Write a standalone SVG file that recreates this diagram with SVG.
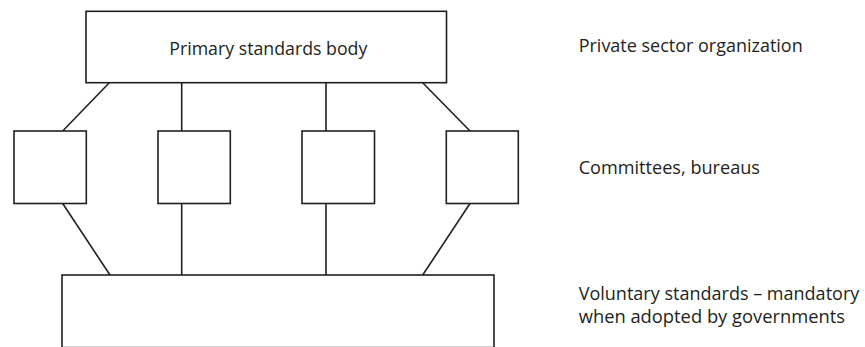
<svg xmlns="http://www.w3.org/2000/svg" width="865" height="347" viewBox="0 0 865 347">
<style>
.box{fill:#fff;stroke:#231f20;stroke-width:1.6}
.con{stroke:#231f20;stroke-width:1.6;fill:none}
.t{font-family:"Open Sans","Noto Sans",sans-serif;font-size:18px;fill:#231f20}
</style>
<rect width="865" height="347" fill="#fff"/>
<g id="connectors">
<line class="con" x1="109.3" y1="82.7" x2="62.7" y2="131"/>
<line class="con" x1="181.7" y1="82.7" x2="181.7" y2="131"/>
<line class="con" x1="326" y1="82.7" x2="326" y2="131"/>
<line class="con" x1="422.7" y1="82.7" x2="470" y2="131"/>
<line class="con" x1="62.7" y1="203.5" x2="110" y2="275"/>
<line class="con" x1="181.7" y1="203.5" x2="181.7" y2="275"/>
<line class="con" x1="326" y1="203.5" x2="326" y2="275"/>
<line class="con" x1="470" y1="203.5" x2="422.7" y2="275"/>
</g>
<g id="primary">
<rect class="box" x="86" y="11.3" width="360.5" height="71.4"/>
<text class="t" x="169.3" y="55" textLength="198" lengthAdjust="spacingAndGlyphs">Primary standards body</text>
</g>
<g id="committee1"><rect class="box" x="14" y="131" width="72.3" height="72.5"/></g>
<g id="committee2"><rect class="box" x="158" y="131" width="72.3" height="72.5"/></g>
<g id="committee3"><rect class="box" x="302" y="131" width="72.5" height="72.5"/></g>
<g id="committee4"><rect class="box" x="446.3" y="131" width="72" height="72.5"/></g>
<g id="voluntary"><rect class="box" x="62" y="275" width="432" height="72.6"/></g>
<g id="labels">
<text class="t" x="578.7" y="51.7" textLength="224" lengthAdjust="spacingAndGlyphs">Private sector organization</text>
<text class="t" x="578.7" y="174" textLength="181.3" lengthAdjust="spacingAndGlyphs">Committees, bureaus</text>
<text class="t" x="578.7" y="299.7" textLength="280.6" lengthAdjust="spacingAndGlyphs">Voluntary standards – mandatory</text>
<text class="t" x="578.7" y="323.2" textLength="266.3" lengthAdjust="spacingAndGlyphs">when adopted by governments</text>
</g>
</svg>
